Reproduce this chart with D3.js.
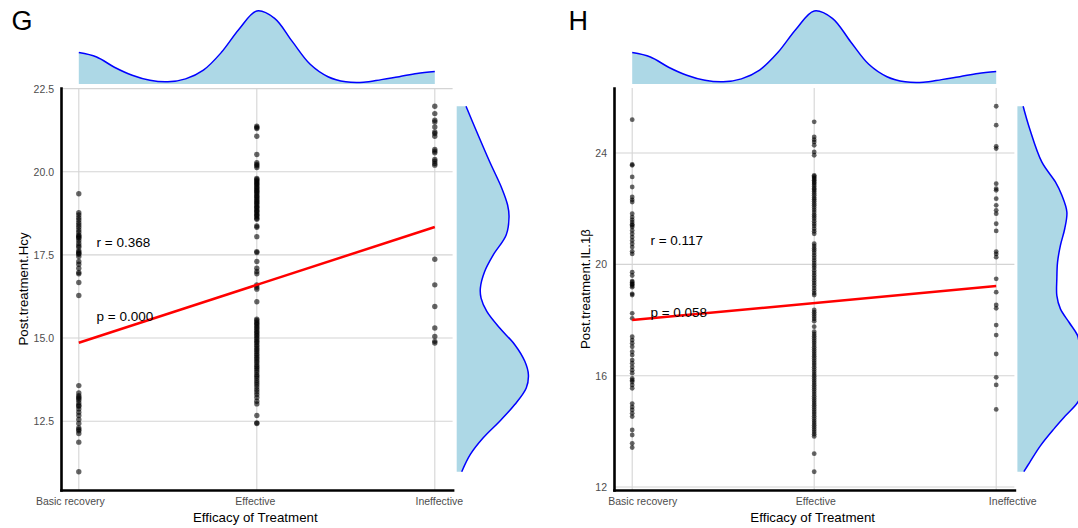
<!DOCTYPE html>
<html>
<head>
<meta charset="utf-8">
<script src="https://cdn.jsdelivr.net/npm/d3@7"></script>
<style>
  html, body { margin: 0; padding: 0; background: #fff; }
  svg { display: block; font-family: "Liberation Sans", Arial, sans-serif; }
</style>
</head>
<body>
<svg id="chart" width="1078" height="528"></svg>
<script>
const categories = ["Basic recovery", "Effective", "Ineffective"];

// panel G : Post.treatment.Hcy
const gBasic = [19.34, 18.77, 18.70, 18.62, 18.55, 18.47, 18.40, 18.33, 18.25, 18.18, 18.10, 18.07, 18.03, 18.00,
  17.93, 17.85, 17.78, 17.73, 17.63, 17.58, 17.55, 17.52, 17.45, 17.30, 17.22, 17.10, 16.97, 16.93, 16.67, 16.28,
  13.57, 13.35, 13.27, 13.22, 13.18, 13.13, 13.05, 12.98, 12.95, 12.87, 12.77, 12.67, 12.55, 12.43, 12.30,
  12.25, 12.21, 12.13, 11.87, 10.98];
const gEffective = [21.37, 21.33, 21.30, 21.07, 20.52, 20.27, 20.22, 20.18, 20.13,
  19.80, 19.77, 19.73, 19.70, 19.66, 19.63, 19.60, 19.55, 19.52, 19.48, 19.44, 19.41, 19.37, 19.33, 19.28,
  19.25, 19.21, 19.17, 19.12, 19.09, 19.05, 19.01, 18.96, 18.93, 18.89, 18.84, 18.81, 18.77, 18.72, 18.69,
  18.65, 18.60, 18.57, 18.37, 18.33, 18.05, 17.60, 17.57, 17.30, 17.10, 17.00, 16.93, 16.60, 16.53, 16.47, 16.09,
  15.57, 15.53, 15.48, 15.44, 15.40, 15.35, 15.30, 15.26, 15.20, 15.16, 15.11, 15.06, 15.01, 14.96, 14.90,
  14.86, 14.80, 14.75, 14.69, 14.64, 14.59, 14.53, 14.48, 14.42, 14.37, 14.31, 14.26, 14.19, 14.14, 14.09,
  14.03, 13.97, 13.90, 13.85, 13.79, 13.72, 13.66, 13.60, 13.53, 13.45, 13.38, 13.30, 13.21, 13.10, 13.02,
  12.67, 12.45, 12.43];
const gIneffective = [21.97, 21.75, 21.55, 21.50, 21.35, 21.20, 21.15, 21.07, 20.67, 20.62, 20.57, 20.37,
  20.32, 20.25, 20.20, 17.37, 16.60, 15.95, 15.30, 15.05, 14.90, 14.85];
const gFit = [14.86, 18.34];
const gStats = ["r = 0.368", "p = 0.000"];
const gStatsAt = [17.89, 15.66];
const gTicks = [12.5, 15, 17.5, 20, 22.5];
const gRightValues = [10.98, 11.5, 12.0, 12.5, 13.0, 13.5, 13.9, 14.3, 14.8, 15.3, 15.8, 16.2, 16.5, 17.0,
  17.5, 18.1, 18.65, 19.0, 19.5, 20.3, 21.3, 21.97];
const gRightDensity = [0.07, 0.19, 0.37, 0.60, 0.81, 0.97, 1.0, 0.95, 0.81, 0.60, 0.42, 0.34, 0.33, 0.39,
  0.51, 0.69, 0.73, 0.71, 0.63, 0.46, 0.26, 0.13];

// panel H : Post.treatment.IL.1β
const hBasic = [25.20, 23.59, 23.56, 23.14, 22.78, 22.42, 22.32, 22.24, 21.82, 21.70, 21.60, 21.52, 21.44,
  21.40, 21.34, 21.22, 21.10, 20.98, 20.86, 20.74, 20.62, 20.47, 20.38, 19.72, 19.60, 19.40, 19.36, 19.30,
  19.28, 19.23, 19.18, 18.94, 18.90, 18.24, 18.06, 17.40, 17.28, 17.17, 17.04, 16.86, 16.74, 16.56, 16.45,
  16.32, 16.20, 16.09, 15.90, 15.84, 15.78, 15.67, 15.55, 15.00, 14.88, 14.77, 14.65, 14.53, 14.05, 13.87,
  13.57, 13.42];
const hEffective = [25.12, 24.58, 24.48, 24.40, 24.28, 24.04, 23.92,
  23.20, 23.16, 23.11, 23.07, 23.02, 22.96, 22.92, 22.86, 22.80, 22.73, 22.68, 22.62, 22.55, 22.48, 22.40,
  22.34, 22.27, 22.19, 22.12, 22.04, 21.96, 21.88, 21.79, 21.72, 21.64, 21.55, 21.46, 21.38, 21.28, 21.19, 21.10,
  20.74, 20.66, 20.57, 20.50, 20.41, 20.32, 20.23, 20.14, 20.05, 19.96, 19.88, 19.78, 19.69, 19.60, 19.51,
  19.42, 19.33, 19.24, 19.15, 19.06, 18.97, 18.90, 18.36, 18.28, 18.20, 18.12, 18.04, 17.96, 17.76,
  17.58, 17.50, 17.42, 17.34, 17.26, 17.18, 17.10, 17.02, 16.94, 16.86, 16.78, 16.70, 16.62, 16.54, 16.46,
  16.38, 16.30, 16.22, 16.14, 16.06, 15.98, 15.90, 15.82, 15.74, 15.66, 15.58, 15.50, 15.42, 15.34, 15.26,
  15.18, 15.10, 15.02, 14.94, 14.86, 14.78, 14.70, 14.62, 14.54, 14.46, 14.38, 14.30, 14.22, 14.14, 14.06,
  13.98, 13.90, 13.82, 13.20, 12.55];
const hIneffective = [25.68, 25.00, 24.24, 24.16, 22.90, 22.72, 22.66, 22.36, 22.12, 21.94, 21.82, 21.46,
  21.20, 20.46, 20.38, 20.26, 19.48, 19.00, 18.54, 18.42, 17.82, 17.46, 16.78, 15.94, 15.67, 14.79];
const hFit = [18.0, 19.22];
const hStats = ["r = 0.117", "p = 0.058"];
const hStatsAt = [20.86, 18.28];
const hTicks = [12, 16, 20, 24];
const hRightValues = [12.55, 12.88, 13.48, 14.09, 14.56, 15.04, 15.6, 16.1, 16.6, 17.08, 17.44, 17.92, 18.40,
  18.88, 19.48, 20.08, 20.68, 21.28, 21.88, 22.48, 22.96, 23.68, 24.88, 25.68];
const hRightDensity = [0.09, 0.17, 0.32, 0.51, 0.67, 0.84, 0.94, 1.0, 0.96, 0.87, 0.84, 0.72, 0.60, 0.55,
  0.55, 0.56, 0.60, 0.66, 0.69, 0.62, 0.53, 0.34, 0.17, 0.08];

// marginal density of the x variable (same in both panels)
const topX = [1.0, 1.1, 1.2, 1.3, 1.4, 1.5, 1.6, 1.7, 1.8, 1.9, 2.0, 2.1, 2.2, 2.3, 2.4, 2.5, 2.6, 2.7, 2.8, 2.9, 3.0];
const topDensity = [0.43, 0.37, 0.23, 0.12, 0.05, 0.03, 0.07, 0.19, 0.43, 0.75, 1.0, 0.90, 0.58, 0.27, 0.10,
  0.03, 0.023, 0.06, 0.10, 0.145, 0.17];

const panels = [
  { tag: "G", tagX: 11.5, yTitle: "Post.treatment.Hcy", yTitleX: 28,
    groups: [gBasic, gEffective, gIneffective], fit: gFit, stats: gStats, statsAt: gStatsAt,
    ticks: gTicks, fmt: d3.format(".1f"), rightValues: gRightValues, rightDensity: gRightDensity,
    left: 61, right: 452.6, gap: 4.1, r: 2.7, labelDx: [-9, -2, 4] },
  { tag: "H", tagX: 568.5, yTitle: "Post.treatment.IL.1β", yTitleX: 590,
    groups: [hBasic, hEffective, hIneffective], fit: hFit, stats: hStats, statsAt: hStatsAt,
    ticks: hTicks, fmt: d3.format("d"), rightValues: hRightValues, rightDensity: hRightDensity,
    left: 614, right: 1014.4, gap: 3, r: 2.4, labelDx: [10, 1, 16] }
];

const plotTop = 88, plotBottom = 490;
const svg = d3.select("#chart");

panels.forEach(p => {
  const g = svg.append("g");

  const all = p.groups.flat();
  const [mn, mx] = d3.extent(all);
  const pad = (mx - mn) * 0.05;
  const y = d3.scaleLinear().domain([mn - pad, mx + pad]).range([plotBottom, plotTop]);
  const x = d3.scalePoint().domain(categories).range([p.left, p.right]).padding(0.1);
  const xc = d3.scaleLinear().domain([1, 3]).range([x(categories[0]), x(categories[2])]);

  // grid
  g.append("g").selectAll("line").data(p.ticks).join("line")
    .attr("x1", p.left).attr("x2", p.right)
    .attr("y1", d => y(d)).attr("y2", d => y(d))
    .attr("stroke", "#d4d4d4").attr("stroke-width", 1.1);
  g.append("g").selectAll("line").data(categories).join("line")
    .attr("x1", d => x(d)).attr("x2", d => x(d))
    .attr("y1", plotTop).attr("y2", plotBottom)
    .attr("stroke", "#d4d4d4").attr("stroke-width", 1.1);

  // top marginal density
  const topData = topX.map((c, i) => ({ c, d: topDensity[i] }));
  const yd = d3.scaleLinear().domain([0, 1]).range([84, 11]);
  g.append("path").datum(topData)
    .attr("fill", "#add8e6")
    .attr("d", d3.area().x(d => xc(d.c)).y0(yd(0)).y1(d => yd(d.d)).curve(d3.curveCatmullRom));
  g.append("path").datum(topData)
    .attr("fill", "none").attr("stroke", "#0000ff").attr("stroke-width", 1.5)
    .attr("d", d3.line().x(d => xc(d.c)).y(d => yd(d.d)).curve(d3.curveCatmullRom));

  // right marginal density
  const rightData = p.rightValues.map((v, i) => ({ v, d: p.rightDensity[i] }));
  const xd = d3.scaleLinear().domain([0, 1]).range([p.right + p.gap, p.right + p.gap + 71.7]);
  g.append("path").datum(rightData)
    .attr("fill", "#add8e6")
    .attr("d", d3.area().y(d => y(d.v)).x0(xd(0)).x1(d => xd(d.d)).curve(d3.curveCatmullRom));
  g.append("path").datum(rightData)
    .attr("fill", "none").attr("stroke", "#0000ff").attr("stroke-width", 1.5)
    .attr("d", d3.line().y(d => y(d.v)).x(d => xd(d.d)).curve(d3.curveCatmullRom));

  // points
  const pts = [];
  p.groups.forEach((arr, i) => arr.forEach(v => pts.push({ c: categories[i], v })));
  g.append("g").selectAll("circle").data(pts).join("circle")
    .attr("cx", d => x(d.c)).attr("cy", d => y(d.v)).attr("r", p.r)
    .attr("fill", "#000").attr("fill-opacity", 0.6);

  // regression line
  g.append("line")
    .attr("x1", xc(1)).attr("y1", y(p.fit[0]))
    .attr("x2", xc(3)).attr("y2", y(p.fit[1]))
    .attr("stroke", "#ff0000").attr("stroke-width", 2.5);

  // r / p annotations
  g.append("g").selectAll("text").data(p.stats).join("text")
    .attr("x", xc(1.1)).attr("y", (d, i) => y(p.statsAt[i])).attr("dy", "0.35em")
    .attr("font-size", 13.5).attr("fill", "#000").text(d => d);

  // axes
  const ax = g.append("g").attr("transform", `translate(${p.left},0)`)
    .call(d3.axisLeft(y).tickValues(p.ticks).tickFormat(p.fmt).tickSize(0).tickPadding(7));
  const bx = g.append("g").attr("transform", `translate(0,${plotBottom})`)
    .call(d3.axisBottom(x).tickSize(0).tickPadding(7.5));
  [ax, bx].forEach(a => {
    a.select(".domain").attr("stroke", "#000").attr("stroke-width", 2.6).attr("stroke-linecap", "square");
    a.selectAll("text").attr("fill", "#4d4d4d").attr("font-size", 10.5)
      .attr("font-family", "'Liberation Sans', Arial, sans-serif");
  });
  bx.selectAll("text").attr("dx", (d, i) => p.labelDx[i]);

  // titles
  g.append("text")
    .attr("x", (p.left + p.right) / 2 - 1.5).attr("y", 522)
    .attr("text-anchor", "middle").attr("font-size", 13.3).attr("fill", "#000")
    .text("Efficacy of Treatment");
  g.append("text")
    .attr("transform", `translate(${p.yTitleX},${(plotTop + plotBottom) / 2}) rotate(-90)`)
    .attr("text-anchor", "middle").attr("font-size", 13.3).attr("fill", "#000")
    .text(p.yTitle);
  g.append("text")
    .attr("x", p.tagX).attr("y", 30.3)
    .attr("font-size", 27).attr("fill", "#000")
    .text(p.tag);
});
</script>
</body>
</html>
